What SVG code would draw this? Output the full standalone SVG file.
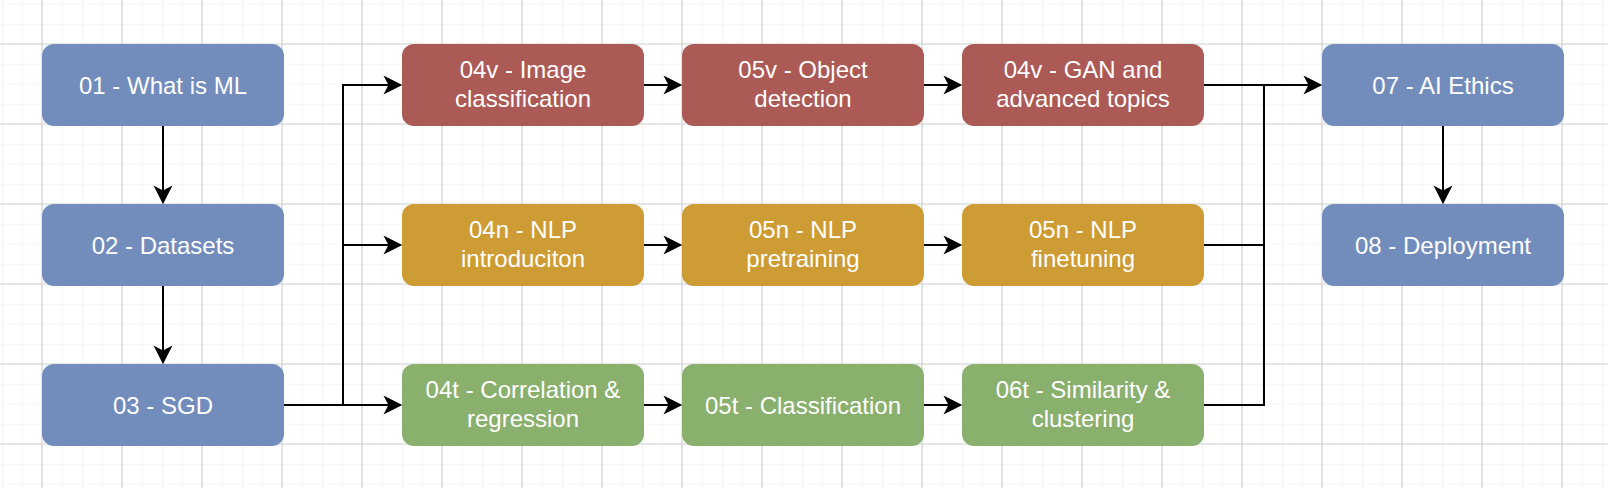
<svg xmlns="http://www.w3.org/2000/svg" width="1608" height="488" viewBox="0 0 1608 488">
  <style>
    .node text { font-family: "Liberation Sans", Arial, Helvetica, sans-serif; font-size: 24px; fill: #ffffff; text-anchor: middle; }
    .blue { fill: #728DBB; }
    .red { fill: #AB5A55; }
    .yellow { fill: #CD9C34; }
    .green { fill: #8AB06E; }
    .edge { fill: none; stroke: #000000; stroke-width: 2; }
  </style>
  <defs>
    <pattern id="minor" x="2" y="4" width="20" height="20" patternUnits="userSpaceOnUse">
      <path d="M0 0 V20 M0 0 H20" fill="none" stroke="#EFEFEF" stroke-width="1.2"/>
    </pattern>
    <pattern id="major" x="2" y="4" width="80" height="80" patternUnits="userSpaceOnUse">
      <path d="M40 0 V80 M0 40 H80" fill="none" stroke="#D2D2D2" stroke-width="1.2"/>
    </pattern>
    <marker id="arrow" markerUnits="userSpaceOnUse" markerWidth="20" markerHeight="20" viewBox="0 0 18 18" refX="5" refY="9" orient="auto">
      <path d="M0 0.5 L17 9 L0 17.5 L4.5 9 Z" fill="#000000"/>
    </marker>
  </defs>
  <rect width="1608" height="488" fill="#ffffff"/>
  <rect width="1608" height="488" fill="url(#minor)"/>
  <rect width="1608" height="488" fill="url(#major)"/>

  <g id="connectors">
    <path class="edge" d="M163 126 V191" marker-end="url(#arrow)"/>
    <path class="edge" d="M163 286 V351" marker-end="url(#arrow)"/>
    <path class="edge" d="M284 405 H343 V85 H389" marker-end="url(#arrow)"/>
    <path class="edge" d="M284 405 H343 V245 H389" marker-end="url(#arrow)"/>
    <path class="edge" d="M284 405 H389" marker-end="url(#arrow)"/>
    <path class="edge" d="M644 85 H669" marker-end="url(#arrow)"/>
    <path class="edge" d="M924 85 H949" marker-end="url(#arrow)"/>
    <path class="edge" d="M644 245 H669" marker-end="url(#arrow)"/>
    <path class="edge" d="M924 245 H949" marker-end="url(#arrow)"/>
    <path class="edge" d="M644 405 H669" marker-end="url(#arrow)"/>
    <path class="edge" d="M924 405 H949" marker-end="url(#arrow)"/>
    <path class="edge" d="M1204 85 H1309" marker-end="url(#arrow)"/>
    <path class="edge" d="M1204 245 H1264 V85"/>
    <path class="edge" d="M1204 405 H1264 V85"/>
    <path class="edge" d="M1443 126 V191" marker-end="url(#arrow)"/>
  </g>

  <g id="n01" class="node"><rect class="blue" x="42" y="44" width="242" height="82" rx="12"/><text x="163" y="93.5">01 - What is ML</text></g>
  <g id="n02" class="node"><rect class="blue" x="42" y="204" width="242" height="82" rx="12"/><text x="163" y="253.5">02 - Datasets</text></g>
  <g id="n03" class="node"><rect class="blue" x="42" y="364" width="242" height="82" rx="12"/><text x="163" y="413.5">03 - SGD</text></g>

  <g id="n04v" class="node"><rect class="red" x="402" y="44" width="242" height="82" rx="12"/><text x="523" y="77.5">04v - Image</text><text x="523" y="106.5">classification</text></g>
  <g id="n05v" class="node"><rect class="red" x="682" y="44" width="242" height="82" rx="12"/><text x="803" y="77.5">05v - Object</text><text x="803" y="106.5">detection</text></g>
  <g id="n06v" class="node"><rect class="red" x="962" y="44" width="242" height="82" rx="12"/><text x="1083" y="77.5">04v - GAN and</text><text x="1083" y="106.5">advanced topics</text></g>

  <g id="n04n" class="node"><rect class="yellow" x="402" y="204" width="242" height="82" rx="12"/><text x="523" y="237.5">04n - NLP</text><text x="523" y="266.5">introduciton</text></g>
  <g id="n05n" class="node"><rect class="yellow" x="682" y="204" width="242" height="82" rx="12"/><text x="803" y="237.5">05n - NLP</text><text x="803" y="266.5">pretraining</text></g>
  <g id="n06n" class="node"><rect class="yellow" x="962" y="204" width="242" height="82" rx="12"/><text x="1083" y="237.5">05n - NLP</text><text x="1083" y="266.5">finetuning</text></g>

  <g id="n04t" class="node"><rect class="green" x="402" y="364" width="242" height="82" rx="12"/><text x="523" y="397.5">04t - Correlation &amp;</text><text x="523" y="426.5">regression</text></g>
  <g id="n05t" class="node"><rect class="green" x="682" y="364" width="242" height="82" rx="12"/><text x="803" y="413.5">05t - Classification</text></g>
  <g id="n06t" class="node"><rect class="green" x="962" y="364" width="242" height="82" rx="12"/><text x="1083" y="397.5">06t - Similarity &amp;</text><text x="1083" y="426.5">clustering</text></g>

  <g id="n07" class="node"><rect class="blue" x="1322" y="44" width="242" height="82" rx="12"/><text x="1443" y="93.5">07 - AI Ethics</text></g>
  <g id="n08" class="node"><rect class="blue" x="1322" y="204" width="242" height="82" rx="12"/><text x="1443" y="253.5">08 - Deployment</text></g>
</svg>
